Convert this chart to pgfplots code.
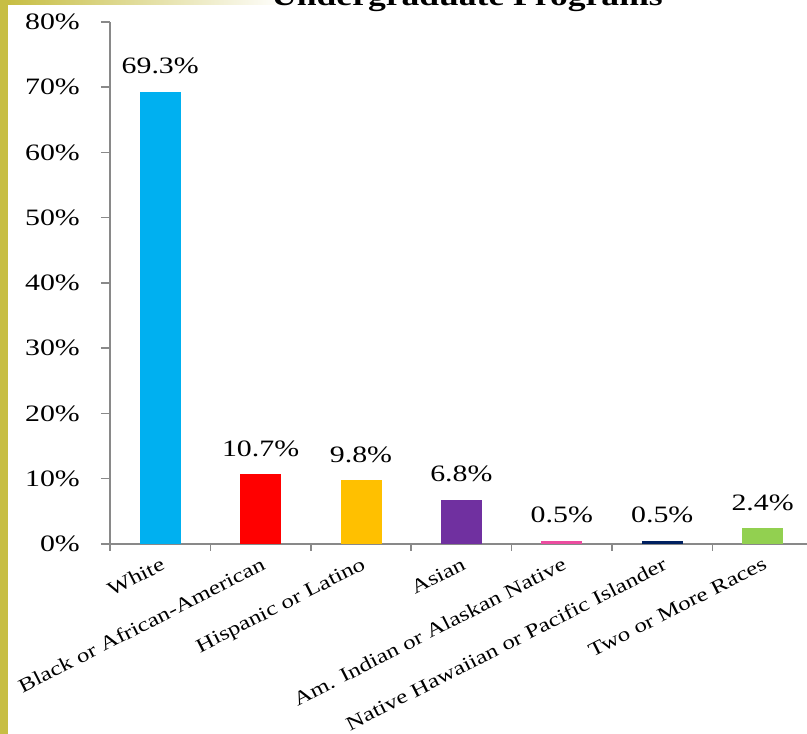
\documentclass[border=0pt]{standalone}
\usepackage{fontspec}
\setmainfont[FakeStretch=1.27]{Liberation Serif}
\usepackage{pgfplots}
\pgfplotsset{compat=1.18}
\definecolor{olivebar}{RGB}{199,190,68}
\definecolor{axisgray}{RGB}{137,137,137}
\definecolor{cWhite}{RGB}{0,176,240}
\definecolor{cBlack}{RGB}{255,0,0}
\definecolor{cHisp}{RGB}{255,192,0}
\definecolor{cAsian}{RGB}{112,48,160}
\definecolor{cAmInd}{RGB}{236,76,160}
\definecolor{cHaw}{RGB}{0,32,96}
\definecolor{cTwo}{RGB}{146,208,80}
\begin{document}
\begin{tikzpicture}
\useasboundingbox (0,0) rectangle (807pt,734pt);
\clip (0,0) rectangle (807pt,734pt);
\fill[olivebar] (0,0) rectangle (8pt,734pt);
\shade[left color=olivebar, right color=white] (8pt,729pt) rectangle (285pt,734pt);
\node[anchor=base, inner sep=0pt, font=\fontsize{28}{30}\selectfont\bfseries] at (467pt,728.5pt) {Undergraduate Programs};
\begin{axis}[
  at={(110pt,190pt)}, anchor=south west, scale only axis,
  width=702.8pt, height=522pt,
  xmin=-0.5, xmax=6.5, ymin=0, ymax=80,
  axis lines=left,
  axis line style={-, draw=axisgray, line width=1.5pt},
  tick align=outside,
  tick style={draw=axisgray, line width=1.5pt},
  major tick length=9pt, minor tick length=7pt,
  /pgf/number format/assume math mode=true,
  ytick={0,10,...,80},
  yticklabels={0\%,10\%,20\%,30\%,40\%,50\%,60\%,70\%,80\%},
  yticklabel style={font=\fontsize{23.5}{25}\selectfont, anchor=east, inner sep=0pt, xshift=-21pt},
  xtick={0,...,6},
  xticklabels={White, Black or African-American, Hispanic or Latino, Asian, Am. Indian or Alaskan Native, Native Hawaiian or Pacific Islander, Two or More Races},
  major x tick style={draw=none},
  minor xtick={-0.5,0.5,...,6.5},
  xticklabel style={font=\fontsize{19.6}{22}\selectfont, rotate=27, anchor=north east, inner sep=0pt, yshift=-3pt, xshift=-2pt},
  ybar, bar width=41pt,
  point meta=explicit symbolic,
  nodes near coords,
  every node near coord/.append style={anchor=base, inner sep=0pt, yshift=18pt, font=\fontsize{23.5}{25}\selectfont, text=black},
]
\addplot[fill=cWhite, draw=none, bar shift=0pt] coordinates {(0,69.3) [69.3\%]};
\addplot[fill=cBlack, draw=none, bar shift=0pt] coordinates {(1,10.7) [10.7\%]};
\addplot[fill=cHisp, draw=none, bar shift=0pt] coordinates {(2,9.8) [9.8\%]};
\addplot[fill=cAsian, draw=none, bar shift=0pt] coordinates {(3,6.8) [6.8\%]};
\addplot[fill=cAmInd, draw=none, bar shift=0pt] coordinates {(4,0.5) [0.5\%]};
\addplot[fill=cHaw, draw=none, bar shift=0pt] coordinates {(5,0.5) [0.5\%]};
\addplot[fill=cTwo, draw=none, bar shift=0pt] coordinates {(6,2.4) [2.4\%]};
\end{axis}
\end{tikzpicture}
\end{document}
